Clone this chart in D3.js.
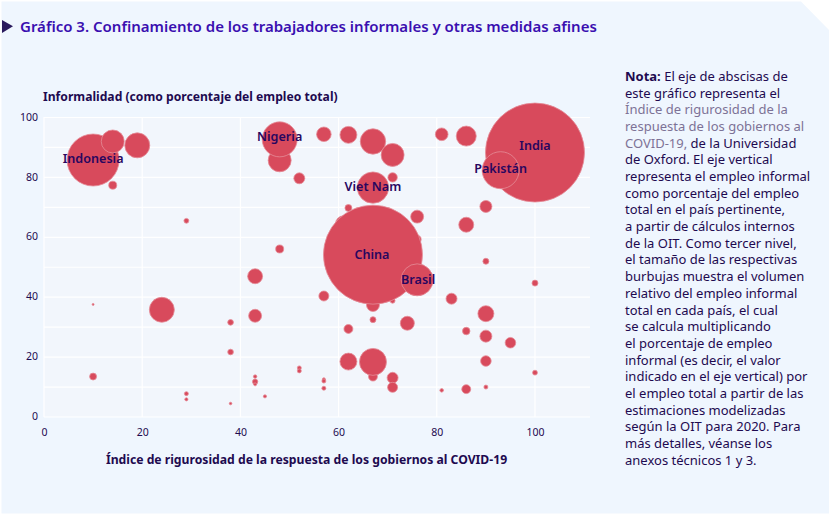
<!DOCTYPE html>
<html><head><meta charset="utf-8">
<script src="https://cdn.jsdelivr.net/npm/d3@7"></script>
<style>html,body{margin:0;padding:0;background:#fff}svg{display:block}text{font-family:"Noto Sans",sans-serif}</style>
</head><body><svg id="c" width="831" height="515"></svg>
<script>
const rigor = [76,61,67,71,48,67,10,14,19,14,29,48,52,57,62,67,71,81,86,100,93,71,67,62,76,90,86,90,100,67,76,57,83,48,43,10,24,43,38,38,10,29,29,38,43,43,43,45,52,52,90,74,67,62,86,90,95,90,62,67,71,71,57,57,57,81,86,90,100];
const informal = [59.3,64.5,37.4,38.8,85.7,13.5,85.8,92,90.7,77.4,65.5,92.7,79.7,94.4,94.2,92,87.5,94.4,93.8,88.3,82.4,80,76.6,69.8,66.9,70.3,64.2,52,44.7,54.2,45.8,40.4,39.5,56.1,47,37.6,35.8,33.8,31.6,21.7,13.5,7.8,5.9,4.5,13.5,11.8,10.9,6.9,16.4,15.4,34.5,31.3,32.5,29.4,28.7,27,24.8,18.7,18.5,18.4,13.1,9.9,12.6,12,9.6,8.9,9.3,10,14.8];
const volume = [16,64,42,6,132,20,676,132,156,16,6,306,30,53,72,161,132,40,100,2450,342,22,246,12,42,36,56,9,9,2450,256,25,30,16,56,1,156,42,8,8,12,4,2.5,1.7,3,7,2.2,2.5,4,4,64,49,9,20,14,36,28,28,72,182,30,25,2.2,4,4,3.2,20,4,6];
const names = ["Indonesia","Nigeria","India","Pakistán","Viet Nam","China","Brasil"];
const nameRigor = [10,48,100,93,67,66.8,76.2];
const nameInformal = [86.2,93.4,90.4,82.7,76.7,54.1,45.8];
const xTicks = [0,20,40,60,80,100];
const yTicks = [0,20,40,60,80,100];
const yMinor = [10,30,50,70,90];
const titleText = "Gráfico 3. Confinamiento de los trabajadores informales y otras medidas afines";
const xTitle = "Índice de rigurosidad de la respuesta de los gobiernos al COVID-19";
const yTitle = "Informalidad (como porcentaje del empleo total)";
const noteLines = [
 [["Nota: ","b"],["El eje de abscisas de","n"]],
 [["este gráfico representa el","n"]],
 [["Índice de rigurosidad de la","l"]],
 [["respuesta de los gobiernos al","l"]],
 [["COVID-19,","l"],[" de la Universidad","n"]],
 [["de Oxford. El eje vertical","n"]],
 [["representa el empleo informal","n"]],
 [["como porcentaje del empleo","n"]],
 [["total en el país pertinente,","n"]],
 [["a partir de cálculos internos","n"]],
 [["de la OIT. Como tercer nivel,","n"]],
 [["el tamaño de las respectivas","n"]],
 [["burbujas muestra el volumen","n"]],
 [["relativo del empleo informal","n"]],
 [["total en cada país, el cual","n"]],
 [["se calcula multiplicando","n"]],
 [["el porcentaje de empleo","n"]],
 [["informal (es decir, el valor","n"]],
 [["indicado en el eje vertical) por","n"]],
 [["el empleo total a partir de las","n"]],
 [["estimaciones modelizadas","n"]],
 [["según la OIT para 2020. Para","n"]],
 [["más detalles, véanse los","n"]],
 [["anexos técnicos 1 y 3.","n"]]
];

const dark = "#1e0a50", svg = d3.select("#c");
svg.append("path").attr("d","M1.5 1.5H801L829 30V513.5H1.5Z").attr("fill","#eff6fe");
svg.append("rect").attr("x",44).attr("y",117).attr("width",546).attr("height",300).attr("fill","#f2f6fc");
svg.append("path").attr("d","M2 20L13 26.3L2 33Z").attr("fill","#2a1a5e");
svg.append("text").attr("x",20).attr("y",32).attr("font-size",15).attr("font-weight",600).attr("fill","#3a0fb0").text(titleText);

const x = d3.scaleLinear().domain([0,111]).range([44,589]);
const y = d3.scaleLinear().domain([0,100]).range([417,117.5]);
const r = d3.scaleSqrt().domain([0,2450]).range([0,49.5]);

const grid = svg.append("g").attr("stroke","#fff").attr("stroke-width",1.2);
grid.selectAll(".h").data(yTicks.concat(yMinor)).join("line").attr("x1",44).attr("x2",590).attr("y1",d=>y(d)).attr("y2",d=>y(d));
grid.selectAll(".v").data(xTicks).join("line").attr("x1",d=>x(d)).attr("x2",d=>x(d)).attr("y1",117).attr("y2",417);

const xAxis = svg.append("g").attr("transform","translate(0,417)").call(d3.axisBottom(x).tickValues(xTicks).tickSize(0).tickPadding(12));
const yAxis = svg.append("g").attr("transform","translate(44,0)").call(d3.axisLeft(y).tickValues(yTicks).tickSize(0).tickPadding(6));
[xAxis,yAxis].forEach(a=>{a.select(".domain").remove();a.selectAll("text").attr("font-size",10.5).attr("fill",dark).style("font-family",'"Noto Sans",sans-serif');});
yAxis.selectAll("text").attr("dy","0.25em");

svg.append("g").selectAll("circle").data(rigor.map((d,i)=>i)).join("circle")
 .attr("cx",i=>x(rigor[i])).attr("cy",i=>y(informal[i])).attr("r",i=>r(volume[i]))
 .attr("fill","#d84a5c").attr("stroke","#e58d98").attr("stroke-width",0.8);

svg.append("g").selectAll("text").data(names).join("text")
 .attr("x",(d,i)=>x(nameRigor[i])).attr("y",(d,i)=>y(nameInformal[i])+4)
 .attr("text-anchor","middle").attr("font-size",12.6).attr("font-weight",600).attr("fill","#28065f").text(d=>d);

svg.append("text").attr("x",43).attr("y",101).attr("font-size",12.15).attr("font-weight",700).attr("fill",dark).text(yTitle);
svg.append("text").attr("x",306.5).attr("y",464).attr("text-anchor","middle").attr("font-size",12.2).attr("font-weight",700).attr("fill",dark).text(xTitle);

const colors = {b:dark,n:"#1e0a50",l:"#7d7296"};
const nt = svg.append("g").selectAll("text").data(noteLines).join("text").attr("x",625).attr("y",(d,i)=>81+i*16.68).attr("font-size",13);
nt.selectAll("tspan").data(d=>d).join("tspan").attr("fill",d=>colors[d[1]]).attr("font-weight",d=>d[1]==="b"?700:400).text(d=>d[0]);
</script></body></html>
